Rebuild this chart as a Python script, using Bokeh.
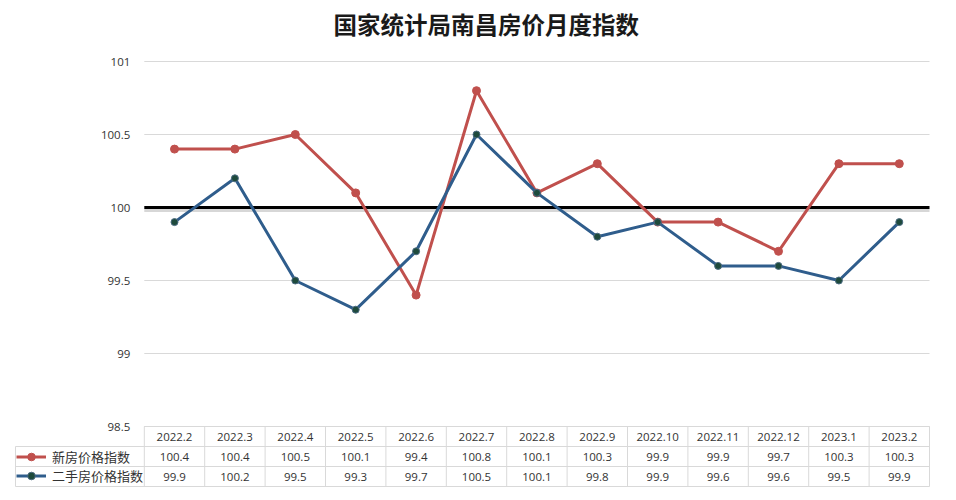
from bokeh.plotting import figure
from bokeh.models import (ColumnDataSource, Range1d, LinearAxis, FixedTicker,
                          Legend, LegendItem)
from bokeh.core.properties import value
from bokeh.embed import file_html
from bokeh.resources import INLINE

# ---- data ----
months = ["2022.2", "2022.3", "2022.4", "2022.5", "2022.6", "2022.7", "2022.8",
          "2022.9", "2022.10", "2022.11", "2022.12", "2023.1", "2023.2"]
new_house = [100.4, 100.4, 100.5, 100.1, 99.4, 100.8, 100.1, 100.3, 99.9, 99.9, 99.7, 100.3, 100.3]
second_house = [99.9, 100.2, 99.5, 99.3, 99.7, 100.5, 100.1, 99.8, 99.9, 99.6, 99.6, 99.5, 99.9]
series_names = ["新房价格指数", "二手房价格指数"]
y_ticks = [98.5, 99, 99.5, 100, 100.5, 101]
y_tick_labels = ["98.5", "99", "99.5", "100", "100.5", "101"]
baseline = 100

# ---- layout constants (pixels) ----
W, FRAME_H = 940, 448
TITLE_H = 35
X0 = 0                      # page x of frame left (measured)
STEP = 60.4                 # px per category
C0 = 174                    # page x of first category
PX_PER_UNIT = 146           # px per y unit
Y101 = 60                   # page y of top tick
frame_top = 8 + TITLE_H
frame_bot = frame_top + FRAME_H

def xd(px):
    return (px - C0) / STEP

def yd(py):
    return y_ticks[-1] - (py - Y101) / PX_PER_UNIT

n = len(months)
idx = list(range(n))
RED = "#C0504D"
BLUE = "#2F5D8C"
GRID = "#d9d9d9"
TXT = "#333333"
FONT = "Open Sans"
CJK = "Noto Sans CJK SC"

p = figure(width=W, frame_width=W, frame_height=FRAME_H, output_backend="svg",
           toolbar_location=None, x_axis_location=None, y_axis_location=None,
           x_range=Range1d(xd(X0), xd(X0 + W)),
           y_range=Range1d(yd(frame_bot), yd(frame_top)),
           min_border_left=0, min_border_right=0, min_border_top=0, min_border_bottom=0)
p.outline_line_color = None
p.background_fill_color = "white"
p.border_fill_color = "white"
p.xgrid.visible = False
p.ygrid.visible = False
for g in p.grid:
    g.visible = False

p.title.text = "国家统计局南昌房价月度指数"
p.title.align = "left"
p.title.text_font = CJK
p.title.text_font_size = "23.5px"
p.title.text_font_style = "bold"
p.title.text_color = "#1a1a1a"
p.title.offset = 333
p.title.standoff = 8

# y axis fixed at plot-area left edge
left = -0.5
right = n - 0.5
yaxis = LinearAxis(fixed_location=left, ticker=FixedTicker(ticks=y_ticks),
                   major_label_overrides={t: s for t, s in zip(y_ticks, y_tick_labels)})
yaxis.axis_line_color = None
yaxis.major_tick_line_color = None
yaxis.minor_tick_line_color = None
yaxis.major_label_text_font = FONT
yaxis.major_label_text_font_size = "11.5px"
yaxis.major_label_text_color = TXT
yaxis.major_label_standoff = 8
p.add_layout(yaxis, "left")

# grid lines across the plot area
grid_ys = [t for t in y_ticks if t != baseline]
p.segment(x0=[left] * len(grid_ys), x1=[right] * len(grid_ys), y0=grid_ys, y1=grid_ys,
          line_color=GRID, line_width=1)

# baseline at 100 with a soft shadow
p.segment(x0=[left], x1=[right], y0=[baseline - 3 / PX_PER_UNIT], y1=[baseline - 3 / PX_PER_UNIT],
          line_color="#b0b0b0", line_width=3, line_alpha=0.5)
p.segment(x0=[left], x1=[right], y0=[baseline], y1=[baseline], line_color="black", line_width=3)

# series
src = ColumnDataSource(dict(x=idx, new=new_house, sec=second_house))
l1 = p.line("x", "new", source=src, line_color=RED, line_width=3)
s1 = p.scatter("x", "new", source=src, size=8, fill_color=RED, line_color=RED)
l2 = p.line("x", "sec", source=src, line_color=BLUE, line_width=3)
s2 = p.scatter("x", "sec", source=src, size=7, fill_color="#1E4A3C", line_color="#4a6a80", line_width=1)

# data table below the plot
row_h = 20 / PX_PER_UNIT
top = y_ticks[0]
rows_y = [top - k * row_h for k in range(4)]
leg_left = xd(15)
# horizontal borders
hx0 = [left] + [leg_left] * 3
p.segment(x0=hx0, x1=[right] * 4, y0=rows_y, y1=rows_y, line_color=GRID, line_width=1)
# vertical borders
vx = [left + k for k in range(n + 1)]
p.segment(x0=vx, x1=vx, y0=[rows_y[0]] * len(vx), y1=[rows_y[3]] * len(vx),
          line_color=GRID, line_width=1)
p.segment(x0=[leg_left], x1=[leg_left], y0=[rows_y[1]], y1=[rows_y[3]], line_color=GRID, line_width=1)

centers = [(rows_y[k] + rows_y[k + 1]) / 2 for k in range(3)]
tsrc = ColumnDataSource(dict(
    x=idx * 3,
    y=[centers[0]] * n + [centers[1]] * n + [centers[2]] * n,
    t=months + [f"{v:g}" for v in new_house] + [f"{v:g}" for v in second_house],
))
p.text("x", "y", text="t", source=tsrc, text_align="center", text_baseline="middle",
       text_font=value(FONT), text_font_size="11.5px", text_color=TXT)

legend = Legend(items=[LegendItem(label=series_names[0], renderers=[l1, s1]),
                       LegendItem(label=series_names[1], renderers=[l2, s2])],
                location=(16, frame_bot - 484), orientation="vertical")
legend.padding = 0
legend.margin = 0
legend.spacing = 0
legend.glyph_width = 30
legend.glyph_height = 19
legend.label_height = 19
legend.label_standoff = 6
legend.label_text_font = CJK
legend.label_text_font_size = "13px"
legend.label_text_color = TXT
legend.background_fill_alpha = 0
legend.border_line_alpha = 0
p.add_layout(legend)

open("out.html", "w").write(file_html(p, INLINE))
